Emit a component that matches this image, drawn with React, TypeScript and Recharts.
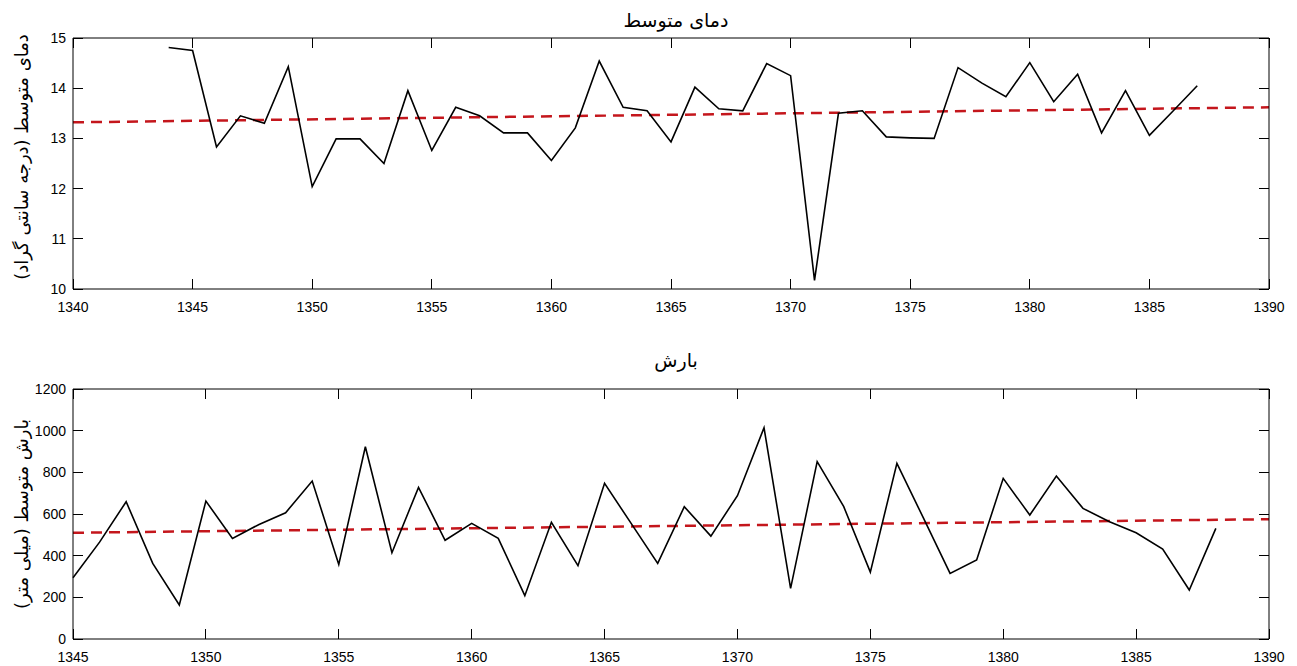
import React from 'react';
import { LineChart, Line, XAxis, YAxis } from 'recharts';

// دمای متوسط (temperature, °C)
const tempYears = [
  1344, 1345, 1346, 1347, 1348, 1349, 1350, 1351, 1352, 1353, 1354, 1355, 1356, 1357, 1358,
  1359, 1360, 1361, 1362, 1363, 1364, 1365, 1366, 1367, 1368, 1369, 1370, 1371, 1372, 1373,
  1374, 1375, 1376, 1377, 1378, 1379, 1380, 1381, 1382, 1383, 1384, 1385, 1386, 1387,
];
const tempValues = [
  14.81, 14.75, 12.83, 13.45, 13.3, 14.43, 12.04, 12.99, 12.99, 12.5, 13.95, 12.76, 13.62, 13.45, 13.11,
  13.11, 12.56, 13.21, 14.54, 13.62, 13.55, 12.93, 14.02, 13.59, 13.55, 14.49, 14.25, 10.17, 13.5, 13.55,
  13.03, 13.01, 13.0, 14.41, 14.1, 13.83, 14.51, 13.73, 14.28, 13.11, 13.95, 13.06, 13.55, 14.05,
];
const tempTrendYears = [1340, 1390];
const tempTrendValues = [13.32, 13.62];
const tempXTicks = [1340, 1345, 1350, 1355, 1360, 1365, 1370, 1375, 1380, 1385, 1390];
const tempYTicks = [10, 11, 12, 13, 14, 15];

// بارش (precipitation, mm)
const rainYears = [
  1345, 1346, 1347, 1348, 1349, 1350, 1351, 1352, 1353, 1354, 1355, 1356, 1357, 1358, 1359,
  1360, 1361, 1362, 1363, 1364, 1365, 1366, 1367, 1368, 1369, 1370, 1371, 1372, 1373, 1374,
  1375, 1376, 1377, 1378, 1379, 1380, 1381, 1382, 1383, 1384, 1385, 1386, 1387, 1388,
];
const rainValues = [
  294, 465, 659, 363, 163, 662, 483, 550, 606, 758, 358, 923, 414, 728, 474,
  555, 483, 208, 560, 352, 747, 555, 363, 635, 494, 688, 1014, 243, 851, 635,
  321, 843, 580, 315, 379, 771, 595, 782, 627, 563, 510, 432, 235, 531,
];
const rainTrendYears = [1345, 1390];
const rainTrendValues = [510, 575];
const rainXTicks = [1345, 1350, 1355, 1360, 1365, 1370, 1375, 1380, 1385, 1390];
const rainYTicks = [0, 200, 400, 600, 800, 1000, 1200];

const toRows = (xs: number[], ys: number[]) => xs.map((x, i) => ({ year: x, v: ys[i] }));

const TICK_LEN = 10;
const X_GAP = 12; // axis line -> top of x label
const Y_GAP = 7; // axis line -> right edge of y label
const tickStroke = { stroke: '#000', strokeWidth: 1, shapeRendering: 'crispEdges' as const, fill: 'none' };
const labelFont = { fill: '#000', fontSize: 14, fontFamily: 'Liberation Sans, Arial, sans-serif' };
const persian = { fontFamily: 'DejaVu Sans, sans-serif', color: '#000', direction: 'rtl' as const };

// labels only, outside the frame
const BottomLabel = (p: any) => (
  <text x={p.x} y={p.y} dy="0.75em" textAnchor="middle" {...labelFont}>
    {p.payload.value}
  </text>
);
const LeftLabel = (p: any) => (
  <text x={p.x} y={p.y} dy="0.36em" textAnchor="end" {...labelFont}>
    {p.payload.value}
  </text>
);
// inward ticks on the four mirrored frame axes
const TickDown = (p: any) => <path d={`M${p.x},${p.y}V${p.y + TICK_LEN}`} {...tickStroke} />;
const TickUp = (p: any) => <path d={`M${p.x},${p.y}V${p.y - TICK_LEN}`} {...tickStroke} />;
const TickRight = (p: any) => <path d={`M${p.x},${p.y}H${p.x + TICK_LEN}`} {...tickStroke} />;
const TickLeft = (p: any) => <path d={`M${p.x},${p.y}H${p.x - TICK_LEN}`} {...tickStroke} />;

interface PanelProps {
  top: number;
  height: number;
  margin: { top: number; right: number; left: number; bottom: number };
  xAxisHeight: number;
  xDomain: [number, number];
  xTicks: number[];
  yDomain: [number, number];
  yTicks: number[];
  series: { year: number; v: number }[];
  trend: { year: number; v: number }[];
}

const Panel = ({ top, height, margin, xAxisHeight, xDomain, xTicks, yDomain, yTicks, series, trend }: PanelProps) => (
  <div style={{ position: 'absolute', left: 0, top, width: 1297, height }}>
    <LineChart width={1297} height={height} margin={margin}>
      <XAxis
        xAxisId="b"
        dataKey="year"
        type="number"
        domain={xDomain}
        ticks={xTicks}
        interval={0}
        height={xAxisHeight}
        tickSize={0}
        tickMargin={X_GAP}
        tick={BottomLabel}
        tickLine={false}
        axisLine={{ stroke: '#000' }}
      />
      <XAxis xAxisId="bm" dataKey="year" type="number" orientation="bottom" mirror domain={xDomain} ticks={xTicks}
        interval={0} tickSize={0} tickMargin={0} tick={TickUp} tickLine={false} axisLine={false} />
      <XAxis xAxisId="t" dataKey="year" type="number" orientation="top" mirror domain={xDomain} ticks={xTicks}
        interval={0} tickSize={0} tickMargin={0} tick={TickDown} tickLine={false} axisLine={{ stroke: '#000' }} />
      <YAxis
        yAxisId="l"
        type="number"
        domain={yDomain}
        ticks={yTicks}
        interval={0}
        width={73}
        tickSize={0}
        tickMargin={Y_GAP}
        tick={LeftLabel}
        tickLine={false}
        axisLine={{ stroke: '#000' }}
      />
      <YAxis yAxisId="lm" type="number" orientation="left" mirror domain={yDomain} ticks={yTicks}
        interval={0} tickSize={0} tickMargin={0} tick={TickRight} tickLine={false} axisLine={false} />
      <YAxis yAxisId="r" type="number" orientation="right" mirror domain={yDomain} ticks={yTicks}
        interval={0} tickSize={0} tickMargin={0} tick={TickLeft} tickLine={false} axisLine={{ stroke: '#000' }} />
      {/* invisible copies bound to the frame axes so they get their ticks */}
      <Line xAxisId="t" yAxisId="r" data={trend} dataKey="v" stroke="none" dot={false} activeDot={false}
        legendType="none" isAnimationActive={false} />
      <Line xAxisId="bm" yAxisId="lm" data={trend} dataKey="v" stroke="none" dot={false} activeDot={false}
        legendType="none" isAnimationActive={false} />
      <Line
        xAxisId="b"
        yAxisId="l"
        data={trend}
        dataKey="v"
        stroke="#c4161c"
        strokeWidth={2.5}
        strokeDasharray="11 7"
        dot={false}
        isAnimationActive={false}
      />
      <Line
        xAxisId="b"
        yAxisId="l"
        data={series}
        dataKey="v"
        stroke="#000"
        strokeWidth={1.6}
        dot={false}
        isAnimationActive={false}
      />
    </LineChart>
  </div>
);

export default function App() {
  return (
    <div style={{ position: 'absolute', left: 0, top: 0, width: 1297, height: 666, background: '#fff', overflow: 'hidden' }}>
      <Panel
        top={0}
        height={320}
        margin={{ top: 38, right: 28, left: 0, bottom: 0 }}
        xAxisHeight={31}
        xDomain={[1340, 1390]}
        xTicks={tempXTicks}
        yDomain={[10, 15]}
        yTicks={tempYTicks}
        series={toRows(tempYears, tempValues)}
        trend={toRows(tempTrendYears, tempTrendValues)}
      />
      <Panel
        top={320}
        height={346}
        margin={{ top: 69, right: 28, left: 0, bottom: 0 }}
        xAxisHeight={27}
        xDomain={[1345, 1390]}
        xTicks={rainXTicks}
        yDomain={[0, 1200]}
        yTicks={rainYTicks}
        series={toRows(rainYears, rainValues)}
        trend={toRows(rainTrendYears, rainTrendValues)}
      />
      <div style={{ ...persian, position: 'absolute', left: 676, top: 20, transform: 'translate(-50%, -50%)', fontSize: 19, lineHeight: 1, whiteSpace: 'nowrap' }}>
        دمای متوسط
      </div>
      <div style={{ ...persian, position: 'absolute', left: 676, top: 360, transform: 'translate(-50%, -50%)', fontSize: 19, lineHeight: 1, whiteSpace: 'nowrap' }}>
        بارش
      </div>
      <div style={{ ...persian, position: 'absolute', left: 22, top: 157, transform: 'translate(-50%, -50%) rotate(-90deg)', fontSize: 18, lineHeight: 1, whiteSpace: 'nowrap' }}>
        دمای متوسط (درجه سانتی گراد)
      </div>
      <div style={{ ...persian, position: 'absolute', left: 22, top: 514, transform: 'translate(-50%, -50%) rotate(-90deg)', fontSize: 18, lineHeight: 1, whiteSpace: 'nowrap' }}>
        بارش متوسط (میلی متر)
      </div>
    </div>
  );
}
